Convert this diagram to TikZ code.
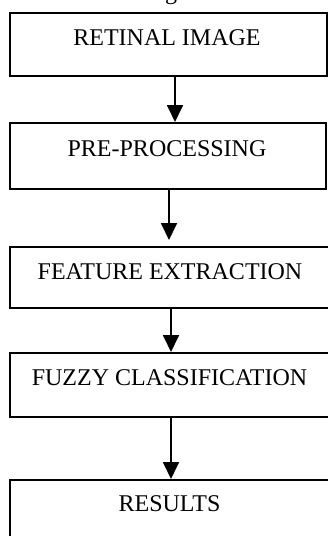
\documentclass[tikz,border=0pt]{standalone}
\usepackage{fontspec}
\setmainfont{Liberation Serif}
\usetikzlibrary{arrows.meta,positioning}
\begin{document}
\begin{tikzpicture}[x=1pt,y=1pt,
  stagebox/.style={draw=black,line width=1.6pt,rectangle,anchor=north west,inner sep=0pt},
  stagetext/.style={anchor=base,inner sep=0pt,font=\fontsize{24}{28}\selectfont},
  flowarrow/.style={line width=1.8pt,-{Triangle[length=17pt,width=16pt]}}]
\useasboundingbox (0,0) rectangle (328,-536);
\begin{scope}
\clip (0,0) rectangle (328,-536);
% fragment of the caption line above the chart
\node[stagetext] (cap) at (171,1) {g};
% process stages
\node[stagebox,minimum width=317pt,minimum height=63pt] (b1) at (9,-12) {};
\node[stagebox,minimum width=316pt,minimum height=66pt] (b2) at (9,-122) {};
\node[stagebox,minimum width=330pt,minimum height=61pt] (b3) at (9,-246) {};
\node[stagebox,minimum width=330pt,minimum height=64pt] (b4) at (9,-352) {};
\node[stagebox,minimum width=330pt,minimum height=70pt] (b5) at (9,-479) {};
% stage labels
\node[stagetext] (t1) at (167,-45) {RETINAL IMAGE};
\node[stagetext] (t2) at (167,-156) {PRE-PROCESSING};
\node[stagetext] (t3) at (170,-279) {FEATURE EXTRACTION};
\node[stagetext] (t4) at (169.5,-385) {FUZZY CLASSIFICATION};
\node[stagetext] (t5) at (169.5,-511) {RESULTS};
\end{scope}
% connectors between stages
\draw[flowarrow] ([xshift=166pt]b1.south west) -- ([xshift=166pt]b2.north west);
\draw[flowarrow,shorten >=6pt] ([xshift=160pt]b2.south west) -- ([xshift=160pt]b3.north west);
\draw[flowarrow] ([xshift=162pt]b3.south west) -- ([xshift=162pt]b4.north west);
\draw[flowarrow] ([xshift=162pt]b4.south west) -- ([xshift=162pt]b5.north west);
\end{tikzpicture}
\end{document}
